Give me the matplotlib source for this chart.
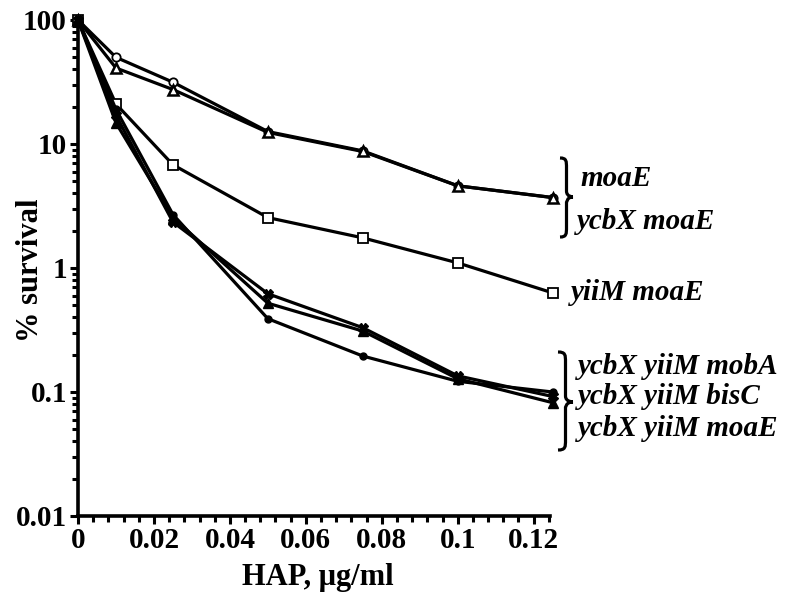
import matplotlib
matplotlib.use("Agg")
import matplotlib.pyplot as plt
from matplotlib.path import Path
from matplotlib.patches import PathPatch
from matplotlib.ticker import FixedLocator, MultipleLocator, LogLocator, NullFormatter

plt.rcParams['font.family'] = ['Liberation Serif', 'DejaVu Serif']
plt.rcParams['font.weight'] = 'bold'

# ---- data ----
hap = [0, 0.01, 0.025, 0.05, 0.075, 0.1, 0.125]
moaE = [100, 50, 31.5, 12.6, 8.8, 4.6, 3.7]
ycbX_moaE = [100, 41, 27.5, 12.4, 8.7, 4.6, 3.7]
yiiM_moaE = [100, 21, 6.8, 2.55, 1.75, 1.1, 0.63]
ycbX_yiiM_mobA = [100, 19, 2.7, 0.39, 0.195, 0.122, 0.1]
ycbX_yiiM_bisC = [100, 17, 2.35, 0.62, 0.33, 0.135, 0.092]
ycbX_yiiM_moaE = [100, 14.8, 2.55, 0.52, 0.31, 0.128, 0.082]

xticks = [0, 0.02, 0.04, 0.06, 0.08, 0.1, 0.12]
xticklabels = ['0', '0.02', '0.04', '0.06', '0.08', '0.1', '0.12']
yticks = [0.01, 0.1, 1, 10, 100]
yticklabels = ['0.01', '0.1', '1', '10', '100']

W, H = 788, 600
fig = plt.figure(figsize=(W / 100, H / 100), dpi=100)
ax = fig.add_axes([78 / W, 1 - 516 / H, (550 - 78) / W, (516 - 20) / H])

lw = 2.3
common = dict(color='black', lw=lw, clip_on=False, zorder=3)
ax.plot(hap, moaE, marker='o', ms=6, mfc='white', mec='black', mew=1.3, **common)
ax.plot(hap, ycbX_moaE, marker='^', ms=7, mfc='white', mec='black', mew=1.8, **common)
ax.plot(hap, yiiM_moaE, marker='s', ms=7, mfc='white', mec='black', mew=1.3, **common)
ax.plot(hap, ycbX_yiiM_mobA, marker='o', ms=5, mfc='black', mec='black', **common)
ax.plot(hap, ycbX_yiiM_bisC, marker='X', ms=7, mfc='black', mec='black', **common)
ax.plot(hap, ycbX_yiiM_moaE, marker='^', ms=7, mfc='black', mec='black', **common)

ax.set_yscale('log')
ax.set_ylim(0.01, 100)
ax.set_xlim(0, 0.1243)

ax.xaxis.set_major_locator(FixedLocator(xticks))
ax.set_xticklabels(xticklabels)
ax.xaxis.set_minor_locator(MultipleLocator(0.004))
ax.yaxis.set_major_locator(FixedLocator(yticks))
ax.set_yticklabels(yticklabels)
ax.yaxis.set_minor_locator(LogLocator(base=10, subs=range(2, 10)))
ax.yaxis.set_minor_formatter(NullFormatter())

for s in ['top', 'right']:
    ax.spines[s].set_visible(False)
for s in ['left', 'bottom']:
    ax.spines[s].set_linewidth(2.6)

ax.tick_params(axis='both', which='major', length=6, width=2.2, direction='out',
               labelsize=21, pad=2)
ax.tick_params(axis='both', which='minor', length=4, width=2.2, direction='out')
for lab in ax.get_xticklabels() + ax.get_yticklabels():
    lab.set_fontweight('bold')


def px(x, y):
    return (x / W, 1 - y / H)


fig.text(*px(318, 578), 'HAP, μg/ml', fontsize=22, fontweight='bold',
         ha='center', va='center')
fig.text(*px(30, 270), '% survival', fontsize=22, fontweight='bold',
         ha='center', va='center', rotation=90)


def brace(x0, y0, x1, y1, ymid):
    # right-pointing curly brace from (x0, y0 top) to (x0, y1 bottom), tip at x1
    xm = (x0 + x1) / 2
    verts = [
        px(x0, y0),
        px(xm, y0), px(xm, y0 + 3), px(xm, y0 + 10),
        px(xm, ymid - 6),
        px(xm, ymid), px(x1, ymid), px(x1, ymid),
        px(xm, ymid), px(xm, ymid + 6), px(xm, ymid + 6),
        px(xm, y1 - 10),
        px(xm, y1 - 3), px(xm, y1), px(x0, y1),
    ]
    codes = [Path.MOVETO,
             Path.CURVE4, Path.CURVE4, Path.CURVE4,
             Path.LINETO,
             Path.CURVE4, Path.CURVE4, Path.CURVE4,
             Path.CURVE4, Path.CURVE4, Path.CURVE4,
             Path.LINETO,
             Path.CURVE4, Path.CURVE4, Path.CURVE4]
    p = PathPatch(Path(verts, codes), transform=fig.transFigure, fill=False,
                  lw=2.3, color='black')
    fig.add_artist(p)


label_kw = dict(fontsize=21, fontweight='bold', fontstyle='italic',
                va='center', ha='left')

brace(560, 158, 573, 237, 197)
fig.text(*px(580, 178), 'moaE', **label_kw)
fig.text(*px(577, 221), 'ycbX moaE', **label_kw)

fig.text(*px(571, 293), 'yiiM moaE', **label_kw)

brace(558, 352, 573, 450, 402)
fig.text(*px(578, 366), 'ycbX yiiM mobA', **label_kw)
fig.text(*px(578, 397), 'ycbX yiiM bisC', **label_kw)
fig.text(*px(578, 429), 'ycbX yiiM moaE', **label_kw)

fig.savefig('out.png', dpi=100)
